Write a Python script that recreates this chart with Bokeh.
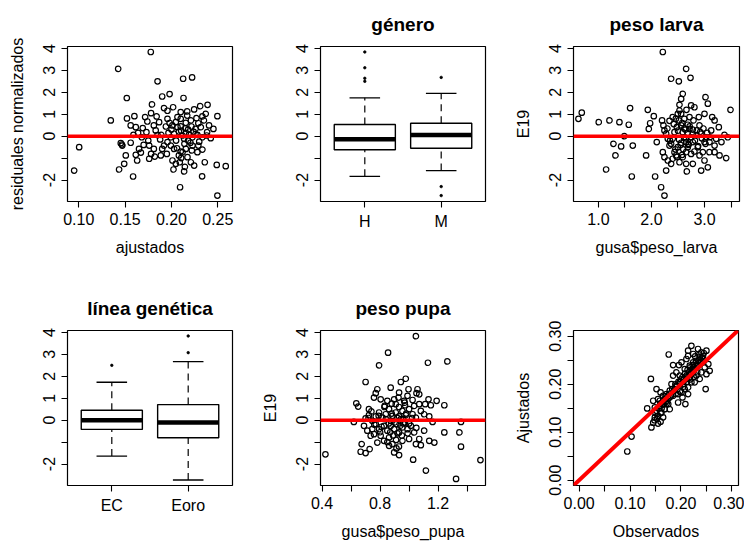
from bokeh.plotting import figure
from bokeh.layouts import column, row
from bokeh.models import FixedTicker, Span, Slope, Range1d
from bokeh.embed import file_html
from bokeh.resources import INLINE

FONT = "Liberation Sans"

# ---- residuals vs fitted values ----
fitted = [0.1777, 0.1425, 0.185, 0.2126, 0.2223, 0.1518, 0.190, 0.198, 0.213, 0.179,
          0.192, 0.2018, 0.1345, 0.152, 0.160, 0.1716, 0.178, 0.184, 0.1957, 0.210,
          0.217, 0.2245, 0.231, 0.239, 0.2496, 0.237, 0.1004, 0.095, 0.1453, 0.147,
          0.156, 0.1507, 0.149, 0.1435, 0.1586, 0.163, 0.165, 0.170, 0.176, 0.178,
          0.181, 0.182, 0.176, 0.1885, 0.1615, 0.156, 0.159, 0.164, 0.168, 0.174,
          0.183, 0.1867, 0.1957, 0.201, 0.2047, 0.210, 0.2155, 0.221, 0.227, 0.2334,
          0.2406, 0.2317, 0.226, 0.1968, 0.1993, 0.2029, 0.208, 0.212, 0.2155, 0.219,
          0.2137, 0.218, 0.2227, 0.228, 0.2334, 0.238, 0.2424, 0.1957, 0.1993, 0.2029,
          0.195, 0.2011, 0.2047, 0.208, 0.212, 0.2155, 0.2173, 0.221, 0.2245, 0.2137,
          0.2022, 0.209, 0.229, 0.2334, 0.236, 0.2489, 0.2586, 0.2331, 0.2093, 0.2496,
          0.190, 0.192, 0.2227, 0.228, 0.1878, 0.189, 0.181, 0.173, 0.169, 0.194,
          0.2065, 0.2216, 0.229, 0.235, 0.2453, 0.2385, 0.217, 0.2065, 0.1465, 0.1615,
          0.2105, 0.2150, 0.2205, 0.2100, 0.2240, 0.200, 0.205, 0.210, 0.214, 0.218,
          0.222, 0.226, 0.230, 0.206, 0.198, 0.185, 0.175, 0.167, 0.2145, 0.2105]
resid = [3.84, 3.07, 2.50, 2.62, 2.68, 1.74, 1.81, 1.92, 1.74, 1.45,
         1.28, 1.32, 0.72, 0.81, 0.91, 0.87, 1.05, 0.90, 1.16, 1.10,
         1.13, 1.22, 1.37, 1.43, 0.91, 1.02, -0.50, -1.57, -0.32, -0.43,
         -0.30, -0.88, -1.26, -1.52, -1.84, -1.11, -0.58, -0.40, -0.43, -0.81,
         -0.58, -0.93, -1.03, -0.88, 0.41, 0.49, 0.06, 0.15, -0.05, 0.67,
         0.26, 0.64, 0.79, 0.49, 0.64, 0.79, 0.61, 0.72, 0.82, 0.90,
         0.49, 0.41, 0.33, 0.15, -0.05, 0.11, 0.21, 0.03, 0.15, 0.06,
         -0.12, -0.20, -0.05, 0.06, -0.05, 0.03, -0.09, -0.27, -0.43, -0.58,
         -0.81, -1.11, -1.26, -0.88, -0.73, -0.58, -0.96, -1.19, -1.34, -1.61,
         -1.52, -1.19, -0.43, -0.61, -1.19, -1.31, -1.37, -1.83, -2.33, -2.71,
         -0.58, -0.43, -0.43, -0.73, -0.15, 0.06, 0.49, 0.18, 0.37, 0.44,
         0.41, 0.44, 0.59, 0.72, 0.33, 0.18, 0.94, 0.87, -0.38, -0.85,
         0.25, 0.35, -0.30, -0.70, 0.20, 0.30, -0.20, 0.45, -0.35, 0.30,
         -0.65, 0.10, -0.25, -0.55, 0.60, 0.05, -0.20, -0.75, -1.40, -1.00]

# ---- boxplot summaries by sex ----
sexo = ["H", "M"]
sexo_pos = [1, 2]
sexo_lo = [-1.83, -1.57]
sexo_q1 = [-0.62, -0.55]
sexo_med = [-0.14, 0.05]
sexo_q3 = [0.53, 0.59]
sexo_hi = [1.75, 1.95]
sexo_out_x = [1, 1, 1, 1, 2, 2, 2]
sexo_out_y = [3.84, 3.12, 2.64, 2.50, 2.68, -2.30, -2.71]

# ---- residuals vs larva weight ----
peso_larva = [2.214, 2.654, 2.371, 2.516, 2.736, 0.623, 0.686, 1.006, 1.208, 1.396,
              1.572, 1.597, 1.931, 2.044, 1.975, 1.950, 1.490, 1.283, 1.428, 1.648,
              1.321, 1.145, 1.629, 1.899, 2.069, 2.182, 2.245, 2.277, 2.100, 2.200,
              2.226, 2.245, 2.277, 2.214, 2.245, 2.308, 2.371, 2.340, 2.400, 2.434,
              2.478, 2.497, 2.528, 2.560, 2.590, 2.516, 2.560, 2.590, 2.620, 2.654,
              2.685, 2.654, 2.590, 2.528, 2.654, 2.667, 2.780, 2.937, 3.000, 3.063,
              3.019, 3.063, 2.748, 2.810, 2.717, 2.792, 2.893, 3.000, 3.145, 3.190,
              3.270, 3.377, 3.490, 3.440, 3.283, 3.409, 3.190, 3.094, 3.030, 2.937,
              2.855, 2.780, 2.717, 2.906, 2.780, 2.874, 2.969, 3.094, 3.190, 2.906,
              2.748, 2.497, 2.434, 2.371, 2.308, 2.685, 2.620, 2.560, 2.400, 2.528,
              3.220, 3.320, 3.126, 2.400, 2.466, 2.810, 3.000, 2.560, 2.640, 2.700,
              2.30, 2.35, 2.42, 2.45, 2.50, 2.52, 2.55, 2.58, 2.60, 2.62,
              2.65, 2.68, 2.70, 2.72, 2.75, 2.78, 2.82, 2.85, 2.88, 2.92,
              2.95, 2.98, 3.02, 3.05, 3.10, 2.48, 2.58, 2.66, 2.46, 2.34]
e19_larva = [3.84, 3.07, 2.62, 2.50, 2.66, 0.79, 1.07, 0.64, 0.72, 0.64,
             0.52, 1.28, 1.20, 0.91, 0.59, 0.33, 0.00, -0.35, -0.47, -0.43,
             -0.88, -1.52, -1.84, -0.88, -1.84, -2.33, -2.71, -1.57, -0.27, 0.72,
             0.49, 0.26, 0.11, -0.73, -0.96, -1.11, -1.26, -0.43, -0.12, 0.18,
             0.41, 1.02, 1.43, 1.70, 1.93, 0.72, 0.49, 0.18, -0.05, -0.27,
             -0.50, -0.73, -0.96, -1.19, -1.26, -1.61, -1.26, -1.57, -1.11, -1.42,
             1.78, 1.48, 1.40, 1.32, 0.87, 0.72, 0.87, 1.02, 0.87, 0.72,
             0.41, 0.06, 1.20, -0.05, -0.88, -1.00, -0.43, -0.27, -0.05, 0.11,
             0.26, 0.11, 0.33, 0.49, -0.27, -0.50, -0.73, -0.73, -0.73, -0.88,
             -0.81, -0.50, -0.73, -0.35, -0.12, 0.52, 0.79, 1.02, 0.87, 1.17,
             -0.12, -0.27, 0.26, -1.03, -0.88, -0.70, -0.27, -0.30, 0.30, -0.40,
             0.35, -0.20, 0.55, -0.60, 0.25, -0.15, -0.40, 0.60, -0.60, 0.35,
             -0.10, 0.15, -0.35, 0.45, -0.05, 0.30, -0.20, 0.05, -0.45, 0.20,
             -0.10, 0.35, -0.35, 0.15, -0.05, -0.95, -0.85, 1.20, 0.80, 0.70]

# ---- boxplot summaries by genetic line ----
linea = ["EC", "Eoro"]
linea_pos = [1, 2]
linea_lo = [-1.64, -2.73]
linea_q1 = [-0.42, -0.80]
linea_med = [0.00, -0.11]
linea_q3 = [0.45, 0.71]
linea_hi = [1.73, 2.67]
linea_out_x = [1, 2, 2]
linea_out_y = [2.50, 3.84, 3.08]

# ---- residuals vs pupa weight ----
peso_pupa = [1.047, 0.855, 0.793, 1.130, 1.264, 0.700, 0.873, 0.977, 0.943, 0.996,
             1.058, 1.051, 0.781, 0.770, 0.758, 0.636, 0.649, 0.723, 0.804, 0.850,
             0.897, 0.927, 0.966, 0.989, 1.024, 1.070, 1.111, 1.134, 1.150, 1.190,
             1.243, 0.619, 0.700, 0.723, 0.746, 0.770, 0.793, 0.816, 0.839, 0.862,
             0.885, 0.908, 0.931, 0.954, 0.977, 1.000, 1.024, 1.047, 1.081, 1.104,
             1.139, 1.162, 1.358, 0.689, 0.712, 0.735, 0.746, 0.770, 0.793, 0.804,
             0.781, 0.827, 0.850, 0.862, 0.873, 0.897, 0.913, 0.931, 0.954, 0.972,
             0.989, 1.012, 1.035, 1.070, 1.104, 1.139, 1.174, 1.243, 1.347, 1.358,
             0.673, 0.666, 0.700, 0.728, 0.423, 0.862, 0.885, 0.913, 0.931, 0.897,
             1.000, 1.028, 1.047, 1.081, 1.116, 1.324, 1.492, 0.954, 0.827, 0.758,
             0.943, 0.873, 1.035, 0.972, 0.908, 0.832, 0.931, 1.070, 0.920, 0.960,
             0.72, 0.76, 0.79, 0.81, 0.84, 0.86, 0.88, 0.90, 0.92, 0.94,
             0.96, 0.98, 1.00, 1.02, 0.87, 0.89, 0.91, 0.95, 0.99, 0.83,
             0.88, 0.93, 0.97, 0.80, 0.74, 1.05, 0.85, 0.93]
e19_pupa = [3.83, 3.08, 2.50, 2.62, 2.68, 1.74, 1.48, 1.89, 1.74, 1.41,
            1.41, 1.23, 1.41, 1.23, 1.03, 0.77, 0.62, 0.50, 0.95, 0.88,
            0.95, 1.03, 0.88, 1.11, 0.92, 0.73, 0.73, 0.95, 0.68, 0.88,
            0.68, -0.08, 0.08, 0.23, -0.03, 0.17, 0.35, 0.12, 0.27, 0.50,
            0.20, 0.35, 0.17, 0.42, 0.23, 0.50, 0.27, 0.12, 0.42, 0.27,
            0.17, -0.08, -0.08, -0.26, -0.48, -0.71, -0.41, -0.18, -0.41, -0.71,
            -1.02, -0.26, -0.48, -0.79, -0.26, -0.41, -0.18, -0.56, -0.33, -0.11,
            -0.41, -0.26, -0.56, -0.86, -0.48, -0.94, -1.02, -0.56, -0.56, -1.21,
            -1.09, -1.44, -1.50, -1.32, -1.56, -1.17, -1.09, -1.29, -1.59, -1.47,
            -0.86, -1.80, -1.09, -1.14, -2.30, -2.68, -1.82, -0.94, -0.94, -0.64,
            0.05, -0.03, 0.65, 0.68, 0.73, 0.65, 1.26, 1.18, -0.60, -0.15,
            0.10, -0.20, 0.20, -0.30, 0.05, -0.15, 0.30, -0.10, 0.10, -0.25,
            0.05, 0.30, -0.15, 0.10, -0.55, -0.70, -0.90, -0.70, -0.60, 0.60,
            0.75, 0.60, 0.80, -0.55, 0.40, -0.35, -1.00, -1.20]

# ---- fitted vs observed ----
observados = [0.0946, 0.103, 0.141, 0.176, 0.2205, 0.214, 0.224, 0.2335, 0.240, 0.250,
              0.1846, 0.196, 0.1337, 0.142, 0.1487, 0.160, 0.152, 0.160, 0.1455, 0.155,
              0.1585, 0.165, 0.1716, 0.178, 0.1846, 0.191, 0.1977, 0.204, 0.1944, 0.203,
              0.2087, 0.214, 0.2107, 0.2205, 0.227, 0.2335, 0.2433, 0.250, 0.2564, 0.2485,
              0.2368, 0.227, 0.2172, 0.2074, 0.201, 0.2107, 0.2368, 0.1618, 0.168, 0.175,
              0.152, 0.155, 0.165, 0.1455, 0.188, 0.1814, 0.214, 0.2205, 0.2303, 0.224,
              0.240, 0.2466, 0.1846, 0.191, 0.1977, 0.1716, 0.168, 0.178, 0.201, 0.2074,
              0.2172, 0.224, 0.2303, 0.214, 0.2433, 0.2538, 0.1944, 0.1585, 0.178, 0.1487,
              0.205, 0.212, 0.219, 0.226, 0.170, 0.163,
              0.150, 0.153, 0.157, 0.160, 0.162, 0.166, 0.170, 0.172, 0.175, 0.177,
              0.180, 0.183, 0.186, 0.189, 0.192, 0.195, 0.198, 0.200, 0.203, 0.206,
              0.208, 0.211, 0.213, 0.216, 0.218, 0.221, 0.223, 0.226, 0.229, 0.232,
              0.235, 0.238, 0.241, 0.244, 0.218, 0.212, 0.205, 0.225, 0.232, 0.198,
              0.190, 0.228, 0.236, 0.245, 0.160, 0.155, 0.148]
ajustados = [0.0598, 0.091, 0.211, 0.262, 0.280, 0.270, 0.263, 0.2735, 0.2665, 0.270,
             0.240, 0.240, 0.1496, 0.110, 0.131, 0.122, 0.190, 0.183, 0.1656, 0.169,
             0.155, 0.176, 0.1656, 0.1865, 0.176, 0.197, 0.218, 0.200, 0.1795, 0.1726,
             0.1587, 0.1795, 0.211, 0.221, 0.2317, 0.2387, 0.2456, 0.221, 0.228, 0.190,
             0.211, 0.204, 0.2387, 0.2317, 0.2456, 0.2526, 0.256, 0.141, 0.148, 0.1587,
             0.1447, 0.134, 0.131, 0.120, 0.190, 0.2004, 0.1934, 0.204, 0.218, 0.2456,
             0.2247, 0.235, 0.218, 0.2247, 0.204, 0.1795, 0.169, 0.1726, 0.183, 0.190,
             0.214, 0.2282, 0.249, 0.259, 0.259, 0.242, 0.162, 0.1656, 0.148, 0.1517,
             0.205, 0.215, 0.222, 0.230, 0.163, 0.158,
             0.140, 0.128, 0.150, 0.160, 0.150, 0.158, 0.175, 0.160, 0.170, 0.180,
             0.175, 0.190, 0.185, 0.200, 0.195, 0.205, 0.200, 0.210, 0.215, 0.210,
             0.222, 0.218, 0.230, 0.225, 0.235, 0.230, 0.240, 0.236, 0.245, 0.240,
             0.250, 0.245, 0.255, 0.252, 0.210, 0.205, 0.195, 0.215, 0.225, 0.185,
             0.180, 0.258, 0.262, 0.265, 0.140, 0.118, 0.125]

resid_ticks = [-2, -1, 0, 1, 2, 3, 4]
resid_labels = {-2: "-2", -1: "", 0: "0", 1: "1", 2: "2", 3: "3", 4: "4"}
resid_range = (-2.98, 4.09)


def make_fig(xr, yr, left, right, top, bottom, title=""):
    p = figure(width=248, height=271, x_range=Range1d(*xr), y_range=Range1d(*yr),
               output_backend="svg", toolbar_location=None,
               min_border_left=left, min_border_right=right,
               min_border_top=top, min_border_bottom=bottom)
    p.grid.visible = False
    p.outline_line_color = "black"
    p.outline_line_width = 1.2
    p.background_fill_color = "white"
    p.border_fill_color = "white"
    p.title.text = title
    p.title.align = "center"
    p.title.text_font = FONT
    p.title.text_font_size = "19px"
    p.title.text_font_style = "bold"
    p.title.text_color = "black"
    p.title.standoff = 23
    for ax in p.axis:
        ax.axis_line_color = None
        ax.major_tick_line_color = "black"
        ax.major_tick_line_width = 1.1
        ax.major_tick_out = 6
        ax.major_tick_in = 0
        ax.minor_tick_line_color = None
        ax.major_label_text_font = FONT
        ax.major_label_text_font_size = "16px"
        ax.major_label_text_color = "black"
        ax.axis_label_text_font = FONT
        ax.axis_label_text_font_size = "16px"
        ax.axis_label_text_font_style = "normal"
        ax.axis_label_text_color = "black"
        ax.major_label_standoff = 5
        ax.axis_label_standoff = 11
    p.yaxis.major_label_orientation = "parallel"
    p.yaxis.major_label_standoff = 6
    p.yaxis.axis_label_standoff = 15
    return p


def set_ticks(axis, ticks, labels):
    axis.ticker = FixedTicker(ticks=ticks)
    axis.major_label_overrides = labels


def scatter_pts(p, x, y):
    p.scatter(x, y, marker="circle", size=5.5, fill_color=None,
              line_color="black", line_width=1.2)


def zero_line(p):
    p.add_layout(Span(location=0, dimension="width", line_color="red", line_width=3.5))


def boxplot(p, pos, lo, q1, med, q3, hi, out_x, out_y, names):
    half = 0.4
    cap = 0.2
    p.segment(x0=pos, x1=pos, y0=q3, y1=hi, line_color="black", line_width=1.2, line_dash="7 5")
    p.segment(x0=pos, x1=pos, y0=lo, y1=q1, line_color="black", line_width=1.2, line_dash="7 5")
    p.segment(x0=[v - cap for v in pos], x1=[v + cap for v in pos], y0=hi, y1=hi,
              line_color="black", line_width=1.3)
    p.segment(x0=[v - cap for v in pos], x1=[v + cap for v in pos], y0=lo, y1=lo,
              line_color="black", line_width=1.3)
    p.quad(left=[v - half for v in pos], right=[v + half for v in pos], bottom=q1, top=q3,
           fill_color="white", line_color="black", line_width=1.4)
    p.segment(x0=[v - half for v in pos], x1=[v + half for v in pos], y0=med, y1=med,
              line_color="black", line_width=4.5)
    p.scatter(out_x, out_y, marker="circle", size=2.5, fill_color="black",
              line_color="black", line_width=0.8)
    set_ticks(p.xaxis, pos, {v: n for v, n in zip(pos, names)})
    set_ticks(p.yaxis, resid_ticks, resid_labels)


# Panel 1: residuals vs fitted
p1 = make_fig((0.0878, 0.2659), resid_range, 67, 16, 46, 70)
scatter_pts(p1, fitted, resid)
zero_line(p1)
set_ticks(p1.xaxis, [0.10, 0.15, 0.20, 0.25], {0.10: "0.10", 0.15: "0.15", 0.20: "0.20", 0.25: "0.25"})
set_ticks(p1.yaxis, resid_ticks, resid_labels)
p1.xaxis.axis_label = "ajustados"
p1.yaxis.axis_label = "residuales normalizados"

# Panel 2: residuals by sex
p2 = make_fig((0.42, 2.58), resid_range, 72, 11, 46, 70, "género")
boxplot(p2, sexo_pos, sexo_lo, sexo_q1, sexo_med, sexo_q3, sexo_hi, sexo_out_x, sexo_out_y, sexo)

# Panel 3: residuals vs larva weight
p3 = make_fig((0.53, 3.66), resid_range, 77, 5, 46, 70, "peso larva")
scatter_pts(p3, peso_larva, e19_larva)
zero_line(p3)
set_ticks(p3.xaxis, [1.0, 1.5, 2.0, 2.5, 3.0, 3.5], {1.0: "1.0", 1.5: "", 2.0: "2.0", 2.5: "", 3.0: "3.0", 3.5: ""})
set_ticks(p3.yaxis, resid_ticks, resid_labels)
p3.xaxis.axis_label = "gusa$peso_larva"
p3.yaxis.axis_label = "E19"

# Panel 4: residuals by genetic line
p4 = make_fig((0.42, 2.58), resid_range, 67, 16, 59, 57, "línea genética")
boxplot(p4, linea_pos, linea_lo, linea_q1, linea_med, linea_q3, linea_hi, linea_out_x, linea_out_y, linea)

# Panel 5: residuals vs pupa weight
p5 = make_fig((0.389, 1.527), resid_range, 72, 11, 59, 57, "peso pupa")
scatter_pts(p5, peso_pupa, e19_pupa)
zero_line(p5)
set_ticks(p5.xaxis, [0.4, 0.6, 0.8, 1.0, 1.2, 1.4], {0.4: "0.4", 0.6: "", 0.8: "0.8", 1.0: "", 1.2: "1.2", 1.4: ""})
set_ticks(p5.yaxis, resid_ticks, resid_labels)
p5.xaxis.axis_label = "gusa$peso_pupa"
p5.yaxis.axis_label = "E19"

# Panel 6: fitted vs observed with identity line
p6 = make_fig((-0.011, 0.313), (-0.011, 0.312), 77, 6, 59, 57)
scatter_pts(p6, observados, ajustados)
p6.add_layout(Slope(gradient=1, y_intercept=0, line_color="red", line_width=4))
prop_ticks = [0.0, 0.05, 0.10, 0.15, 0.20, 0.25, 0.30]
prop_labels = {0.0: "0.00", 0.05: "", 0.10: "0.10", 0.15: "", 0.20: "0.20", 0.25: "", 0.30: "0.30"}
set_ticks(p6.xaxis, prop_ticks, prop_labels)
set_ticks(p6.yaxis, prop_ticks, prop_labels)
p6.xaxis.axis_label = "Observados"
p6.yaxis.axis_label = "Ajustados"

layout = column(row(p1, p2, p3), row(p4, p5, p6))
open("out.html", "w").write(file_html(layout, INLINE))
